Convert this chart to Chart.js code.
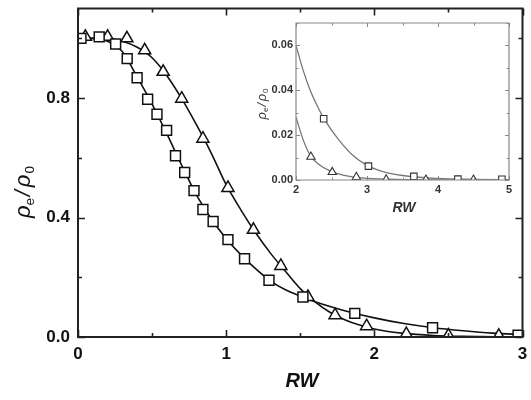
<!DOCTYPE html>
<html>
<head>
<meta charset="utf-8">
<script src="https://cdn.jsdelivr.net/npm/chart.js@4/dist/chart.umd.min.js"></script>
<style>
  html, body { margin: 0; padding: 0; background: #fff; }
  #wrap { position: relative; width: 531px; height: 400px; }
  #main { position: absolute; left: 0; top: 0; }
  #inset { position: absolute; left: 240px; top: 0; }
</style>
</head>
<body>
<div id="wrap">
  <canvas id="main" width="531" height="400"></canvas>
  <canvas id="inset" width="280" height="225"></canvas>
</div>
<script>
// ---------- Main plot data ----------
const triX = [0.05, 0.20, 0.33, 0.45, 0.575, 0.70, 0.843, 1.012, 1.184, 1.369, 1.552, 1.735, 1.948, 2.216, 2.50, 2.84];
const triY = [1.005, 1.005, 1.0, 0.96, 0.888, 0.798, 0.664, 0.499, 0.359, 0.238, 0.134, 0.073, 0.036, 0.010, 0.005, 0.004];
const sqX = [0.02, 0.143, 0.254, 0.332, 0.399, 0.47, 0.533, 0.598, 0.658, 0.72, 0.783, 0.843, 0.912, 1.012, 1.124, 1.289, 1.518, 1.868, 2.393, 2.97];
const sqY = [1.0, 1.005, 0.981, 0.932, 0.868, 0.796, 0.746, 0.692, 0.607, 0.551, 0.49, 0.427, 0.387, 0.326, 0.262, 0.19, 0.134, 0.079, 0.031, 0.006];

// fitted curves
const triCurveX = [0, 0.1, 0.2, 0.3, 0.4, 0.5, 0.6, 0.7, 0.8, 0.9, 1.0, 1.1, 1.2, 1.3, 1.4, 1.5, 1.6, 1.7, 1.8, 1.9, 2.0, 2.2, 2.4, 2.6, 2.8, 3.0];
const triCurveY = [1.0, 1.0, 1.0, 0.99, 0.97, 0.935, 0.875, 0.798, 0.71, 0.615, 0.51, 0.425, 0.348, 0.28, 0.22, 0.162, 0.118, 0.083, 0.058, 0.04, 0.027, 0.012, 0.005, 0.002, 0.001, 0.0];
const sqCurveX = [0, 0.1, 0.2, 0.3, 0.4, 0.5, 0.6, 0.7, 0.8, 0.9, 1.0, 1.1, 1.2, 1.3, 1.4, 1.5, 1.6, 1.8, 2.0, 2.2, 2.4, 2.6, 2.8, 3.0];
const sqCurveY = [1.0, 1.0, 0.99, 0.955, 0.87, 0.78, 0.68, 0.575, 0.475, 0.395, 0.33, 0.275, 0.228, 0.187, 0.158, 0.137, 0.118, 0.088, 0.064, 0.045, 0.031, 0.021, 0.013, 0.008];

const mainXTicks = [0, 1, 2, 3];
const mainXMinor = [0.5, 1.5, 2.5];
const mainYTicks = [0.0, 0.4, 0.8];
const mainYMinor = [0.2, 0.6, 1.0];

// ---------- Inset data ----------
const inSqX = [2.39, 3.02, 3.66, 4.28, 4.9];
const inSqY = [0.0273, 0.0062, 0.0016, 0.0004, 0.0003];
const inTriX = [2.21, 2.51, 2.85, 3.27, 3.83, 4.5];
const inTriY = [0.0103, 0.0035, 0.0013, 0.0002, 0.0001, 0.0001];
const inSqCurveX = [2.0, 2.1, 2.2, 2.3, 2.4, 2.6, 2.8, 3.0, 3.2, 3.5, 4.0, 4.5, 5.0];
const inSqCurveY = [0.060, 0.049, 0.040, 0.033, 0.027, 0.018, 0.011, 0.0065, 0.004, 0.002, 0.0007, 0.0003, 0.0001];
const inTriCurveX = [2.0, 2.1, 2.2, 2.3, 2.5, 2.75, 3.0, 3.5, 4.0, 5.0];
const inTriCurveY = [0.028, 0.018, 0.011, 0.0075, 0.0037, 0.0016, 0.0007, 0.0002, 0.0001, 0.0];

const inXTicks = [2, 3, 4, 5];
const inXMinor = [2.5, 3.5, 4.5];
const inYTicks = [0.00, 0.02, 0.04, 0.06];
const inYMinor = [0.01, 0.03, 0.05, 0.07];

const xTitle = "RW";

function pts(xs, ys) { return xs.map((x, i) => ({ x: x, y: ys[i] })); }

function noPad(s) { s.paddingTop = 0; s.paddingBottom = 0; s.paddingLeft = 0; s.paddingRight = 0; }

// draws frame + inward ticks on all four sides
function framePlugin(opts) {
  return {
    id: 'frame_' + opts.id,
    afterDatasetsDraw(chart) {
      const ctx = chart.ctx;
      const { left, right, top, bottom } = chart.chartArea;
      const xs = chart.scales.x, ys = chart.scales.y;
      ctx.save();
      ctx.strokeStyle = opts.color;
      ctx.lineWidth = opts.width;
      ctx.beginPath();
      ctx.rect(left, top, right - left, bottom - top);
      ctx.stroke();
      ctx.lineWidth = opts.tickWidth;
      ctx.beginPath();
      const xt = (vals, len) => vals.forEach(v => {
        const p = Math.round(xs.getPixelForValue(v)) + 0.5;
        ctx.moveTo(p, bottom); ctx.lineTo(p, bottom - len);
        ctx.moveTo(p, top); ctx.lineTo(p, top + len);
      });
      const yt = (vals, len) => vals.forEach(v => {
        const p = Math.round(ys.getPixelForValue(v)) + 0.5;
        ctx.moveTo(left, p); ctx.lineTo(left + len, p);
        ctx.moveTo(right, p); ctx.lineTo(right - len, p);
      });
      xt(opts.xMajor, opts.major); xt(opts.xMinor, opts.minor);
      yt(opts.yMajor, opts.major); yt(opts.yMinor, opts.minor);
      ctx.stroke();
      ctx.restore();
    }
  };
}

// rho_e / rho_0 title with subscripts, rotated
function drawRhoTitle(ctx, cx, cy, size, color) {
  const fam = '"Liberation Sans", Arial, sans-serif';
  const big = 'italic ' + size + 'px ' + fam;
  const sub = (size * 0.62).toFixed(1) + 'px ' + fam;
  const parts = [
    { t: '\u03C1', f: big, dy: 0 },
    { t: 'e', f: sub, dy: size * 0.28 },
    { t: '/', f: big, dy: 0, pad: size * 0.08 },
    { t: '\u03C1', f: big, dy: 0, pad: size * 0.05 },
    { t: '0', f: sub, dy: size * 0.28 }
  ];
  ctx.save();
  ctx.translate(cx, cy);
  ctx.rotate(-Math.PI / 2);
  ctx.fillStyle = color;
  ctx.textBaseline = 'middle';
  ctx.textAlign = 'left';
  let total = 0;
  parts.forEach(p => { ctx.font = p.f; p.w = ctx.measureText(p.t).width; total += p.w + (p.pad || 0) * 2; });
  let x = -total / 2;
  parts.forEach(p => {
    ctx.font = p.f;
    x += (p.pad || 0);
    ctx.fillText(p.t, x, p.dy);
    x += p.w + (p.pad || 0);
  });
  ctx.restore();
}

function titlesPlugin(opts) {
  return {
    id: 'titles_' + opts.id,
    afterDraw(chart) {
      const ctx = chart.ctx;
      ctx.save();
      ctx.fillStyle = opts.color;
      ctx.font = 'italic bold ' + opts.xSize + 'px "Liberation Sans", Arial, sans-serif';
      ctx.textAlign = 'center';
      ctx.textBaseline = 'middle';
      ctx.fillText(xTitle, opts.xPos[0], opts.xPos[1]);
      ctx.restore();
      drawRhoTitle(ctx, opts.yPos[0], opts.yPos[1], opts.ySize, opts.color);
    }
  };
}

Chart.defaults.font.family = '"Liberation Sans", Arial, sans-serif';

// ---------- Main chart ----------
new Chart(document.getElementById('main'), {
  type: 'scatter',
  data: {
    datasets: [
      { data: pts(sqX, sqY), pointStyle: 'rect', pointRadius: 7, pointBackgroundColor: '#fff',
        pointBorderColor: '#111', pointBorderWidth: 1.5, showLine: false, order: 0 },
      { data: pts(triX, triY), pointStyle: 'triangle', pointRadius: 7, pointBackgroundColor: '#fff',
        pointBorderColor: '#111', pointBorderWidth: 1.5, showLine: false, order: 0 },
      { data: pts(sqCurveX, sqCurveY), showLine: true, pointRadius: 0, borderColor: '#111',
        borderWidth: 1.6, cubicInterpolationMode: 'monotone', order: 1 },
      { data: pts(triCurveX, triCurveY), showLine: true, pointRadius: 0, borderColor: '#111',
        borderWidth: 1.6, cubicInterpolationMode: 'monotone', order: 1 }
    ]
  },
  options: {
    responsive: false, animation: false, devicePixelRatio: 1,
    layout: { padding: { top: 5, right: 4, left: 0, bottom: 0 } },
    plugins: { legend: { display: false }, tooltip: { enabled: false } },
    scales: {
      x: {
        type: 'linear', min: 0, max: 3,
        afterFit(s) { s.height = 63; noPad(s); },
        afterBuildTicks(s) { s.ticks = mainXTicks.map(v => ({ value: v })); },
        grid: { display: false, drawTicks: false }, border: { display: false },
        ticks: { padding: 7, color: '#111', font: { size: 17, weight: 'bold' },
                 callback: v => String(v) }
      },
      y: {
        type: 'linear', min: 0, max: 1.1,
        afterFit(s) { s.width = 78; noPad(s); },
        afterBuildTicks(s) { s.ticks = mainYTicks.map(v => ({ value: v })); },
        grid: { display: false, drawTicks: false }, border: { display: false },
        ticks: { padding: 8, color: '#111', font: { size: 17, weight: 'bold' },
                 callback: v => Number(v).toFixed(1) }
      }
    }
  },
  plugins: [
    framePlugin({ id: 'm', color: '#222', width: 2, tickWidth: 1.6, major: 7, minor: 4,
                  xMajor: mainXTicks, xMinor: mainXMinor, yMajor: mainYTicks, yMinor: mainYMinor }),
    titlesPlugin({ id: 'm', color: '#111', xSize: 20, xPos: [302, 381], ySize: 22, yPos: [24, 192] })
  ]
});

// ---------- Inset chart ----------
new Chart(document.getElementById('inset'), {
  type: 'scatter',
  data: {
    datasets: [
      { data: pts(inSqX, inSqY), pointStyle: 'rect', pointRadius: 4.6, pointBackgroundColor: '#fff',
        pointBorderColor: '#333', pointBorderWidth: 1.1, showLine: false, order: 0 },
      { data: pts(inTriX, inTriY), pointStyle: 'triangle', pointRadius: 4.8, pointBackgroundColor: '#fff',
        pointBorderColor: '#333', pointBorderWidth: 1.1, showLine: false, order: 0 },
      { data: pts(inSqCurveX, inSqCurveY), showLine: true, pointRadius: 0, borderColor: '#777',
        borderWidth: 1.3, cubicInterpolationMode: 'monotone', order: 1 },
      { data: pts(inTriCurveX, inTriCurveY), showLine: true, pointRadius: 0, borderColor: '#777',
        borderWidth: 1.3, cubicInterpolationMode: 'monotone', order: 1 }
    ]
  },
  options: {
    responsive: false, animation: false, devicePixelRatio: 1,
    layout: { padding: { top: 23, right: 11, left: 0, bottom: 0 } },
    plugins: { legend: { display: false }, tooltip: { enabled: false } },
    scales: {
      x: {
        type: 'linear', min: 2, max: 5,
        afterFit(s) { s.height = 45; noPad(s); },
        afterBuildTicks(s) { s.ticks = inXTicks.map(v => ({ value: v })); },
        grid: { display: false, drawTicks: false }, border: { display: false },
        ticks: { padding: 3, color: '#333', font: { size: 11, weight: 'bold' },
                 callback: v => String(v) }
      },
      y: {
        type: 'linear', min: 0, max: 0.07,
        afterFit(s) { s.width = 56; noPad(s); },
        afterBuildTicks(s) { s.ticks = inYTicks.map(v => ({ value: v })); },
        grid: { display: false, drawTicks: false }, border: { display: false },
        ticks: { padding: 3, color: '#333', font: { size: 11, weight: 'bold' },
                 callback: v => Number(v).toFixed(2) }
      }
    }
  },
  plugins: [
    framePlugin({ id: 'i', color: '#888', width: 1.2, tickWidth: 1, major: 4, minor: 2.5,
                  xMajor: inXTicks, xMinor: inXMinor, yMajor: inYTicks, yMinor: inYMinor }),
    titlesPlugin({ id: 'i', color: '#333', xSize: 14, xPos: [164, 208], ySize: 13, yPos: [22, 104] })
  ]
});
</script>
</body>
</html>
